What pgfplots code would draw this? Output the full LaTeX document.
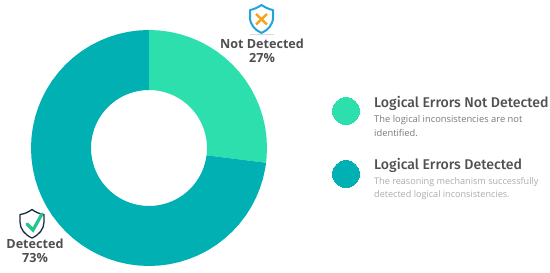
\documentclass[border=0pt]{standalone}
\usepackage{pgfplots}
\usepgfplotslibrary{polar}
\pgfplotsset{compat=1.18}
\usepackage{fontspec}
\setmainfont{Open Sans}
\newfontfamily\headfont{Fira Sans Medium}
\definecolor{lightc}{HTML}{2EDFAE}
\definecolor{darkc}{HTML}{00B0B2}
\definecolor{labc}{HTML}{4F4F4F}
\definecolor{headc}{HTML}{505050}
\definecolor{desc}{HTML}{7A7A7A}
\definecolor{desl}{HTML}{ABABAB}
\definecolor{shblue}{HTML}{1FA4DC}
\definecolor{shnavy}{HTML}{1B2A4A}
\definecolor{xor}{HTML}{F7A41D}
\definecolor{chk}{HTML}{22C58B}
\begin{document}
\begin{tikzpicture}[x=1pt,y=1pt]
\path[use as bounding box] (0pt,0pt) rectangle (550pt,273pt);
\begin{axis}[at={(0pt,0pt)},anchor=south west,scale only axis,width=550pt,height=273pt,
  xmin=0,xmax=550,ymin=0,ymax=273,y dir=reverse,hide axis,clip=false]
\addplot[only marks,mark=*,mark size=13.5pt,mark options={draw=lightc,line width=0pt,fill=lightc}] coordinates {(346,111)};
\addplot[only marks,mark=*,mark size=13.5pt,mark options={draw=darkc,line width=0pt,fill=darkc}] coordinates {(346,174)};
\node[anchor=center,text=labc,font=\fontsize{12.6}{14}\selectfont\bfseries] at (axis cs:262,43.5) {Not Detected};
\node[anchor=center,text=labc,font=\fontsize{12.6}{14}\selectfont\bfseries] at (axis cs:262,57.5) {27\%};
\node[anchor=center,text=labc,font=\fontsize{12.6}{14}\selectfont\bfseries] at (axis cs:35,243.5) {Detected};
\node[anchor=center,text=labc,font=\fontsize{12.6}{14}\selectfont\bfseries] at (axis cs:35,257.5) {73\%};
\node[anchor=west,inner sep=0pt,text=headc,font=\headfont\fontsize{14.1}{16}\selectfont] at (axis cs:374,103.5) {Logical Errors Not Detected};
\node[anchor=west,inner sep=0pt,text=desc,font=\fontsize{9.35}{10}\selectfont] at (axis cs:374,120) {The logical inconsistencies are not};
\node[anchor=west,inner sep=0pt,text=desc,font=\fontsize{9.35}{10}\selectfont] at (axis cs:374,133) {identified.};
\node[anchor=west,inner sep=0pt,text=headc,font=\headfont\fontsize{14.1}{16}\selectfont] at (axis cs:374,165.5) {Logical Errors Detected};
\node[anchor=west,inner sep=0pt,text=desl,font=\fontsize{9.1}{10}\selectfont] at (axis cs:374,182) {The reasoning mechanism successfully};
\node[anchor=west,inner sep=0pt,text=desl,font=\fontsize{9.1}{10}\selectfont] at (axis cs:374,195) {detected logical inconsistencies.};
% shield, not detected
\draw[shblue,line width=2pt,line join=round] (axis cs:261.5,5) .. controls (axis cs:257,8) and (axis cs:253,9.5) .. (axis cs:250,10) -- (axis cs:250,17) .. controls (axis cs:250,25) and (axis cs:255,30) .. (axis cs:261.5,33) .. controls (axis cs:268,30) and (axis cs:273,25) .. (axis cs:273,17) -- (axis cs:273,10) .. controls (axis cs:270,9.5) and (axis cs:266,8) .. cycle;
\draw[xor,line width=2.4pt] (axis cs:256,14) -- (axis cs:267,24.5) (axis cs:267,14) -- (axis cs:256,24.5);
\draw[black!15,line width=0.7pt] (axis cs:250,34.5) -- (axis cs:274,34.5);
% shield, detected
\draw[shnavy,line width=1.3pt,line join=round] (axis cs:32,209.5) .. controls (axis cs:28,212.5) and (axis cs:24,214) .. (axis cs:20,214.5) -- (axis cs:20,222) .. controls (axis cs:20,229) and (axis cs:25,235) .. (axis cs:32,238) .. controls (axis cs:39,235) and (axis cs:44,229) .. (axis cs:44,222) -- (axis cs:44,214.5) .. controls (axis cs:40,214) and (axis cs:36,212.5) .. cycle;
\draw[chk,line width=3.2pt,line cap=round,line join=miter] (axis cs:27,224) -- (axis cs:33,230) -- (axis cs:42,214);
\end{axis}
\begin{polaraxis}[at={(149pt,125pt)},anchor=center,scale only axis,width=236pt,height=236pt,
  xmin=0,xmax=360,ymin=0,ymax=118,hide axis,clip=false]
\addplot[fill=lightc,draw=none] coordinates {
(90,118)(85,118)(80,118)(75,118)(70,118)(65,118)(60,118)(55,118)(50,118)(45,118)(40,118)(35,118)(30,118)(25,118)(20,118)(15,118)(10,118)(5,118)(0,118)(-5,118)(-7.2,118)
(-7.2,58)(-5,58)(0,58)(5,58)(10,58)(15,58)(20,58)(25,58)(30,58)(35,58)(40,58)(45,58)(50,58)(55,58)(60,58)(65,58)(70,58)(75,58)(80,58)(85,58)(90,58)} --cycle;
\addplot[fill=darkc,draw=none] coordinates {
(-7.2,118)(-10,118)(-15,118)(-20,118)(-25,118)(-30,118)(-35,118)(-40,118)(-45,118)(-50,118)(-55,118)(-60,118)(-65,118)(-70,118)(-75,118)(-80,118)(-85,118)(-90,118)(-95,118)(-100,118)(-105,118)(-110,118)(-115,118)(-120,118)(-125,118)(-130,118)(-135,118)(-140,118)(-145,118)(-150,118)(-155,118)(-160,118)(-165,118)(-170,118)(-175,118)(-180,118)(-185,118)(-190,118)(-195,118)(-200,118)(-205,118)(-210,118)(-215,118)(-220,118)(-225,118)(-230,118)(-235,118)(-240,118)(-245,118)(-250,118)(-255,118)(-260,118)(-265,118)(-270,118)
(-270,58)(-265,58)(-260,58)(-255,58)(-250,58)(-245,58)(-240,58)(-235,58)(-230,58)(-225,58)(-220,58)(-215,58)(-210,58)(-205,58)(-200,58)(-195,58)(-190,58)(-185,58)(-180,58)(-175,58)(-170,58)(-165,58)(-160,58)(-155,58)(-150,58)(-145,58)(-140,58)(-135,58)(-130,58)(-125,58)(-120,58)(-115,58)(-110,58)(-105,58)(-100,58)(-95,58)(-90,58)(-85,58)(-80,58)(-75,58)(-70,58)(-65,58)(-60,58)(-55,58)(-50,58)(-45,58)(-40,58)(-35,58)(-30,58)(-25,58)(-20,58)(-15,58)(-10,58)(-7.2,58)} --cycle;
\end{polaraxis}
\end{tikzpicture}
\end{document}
